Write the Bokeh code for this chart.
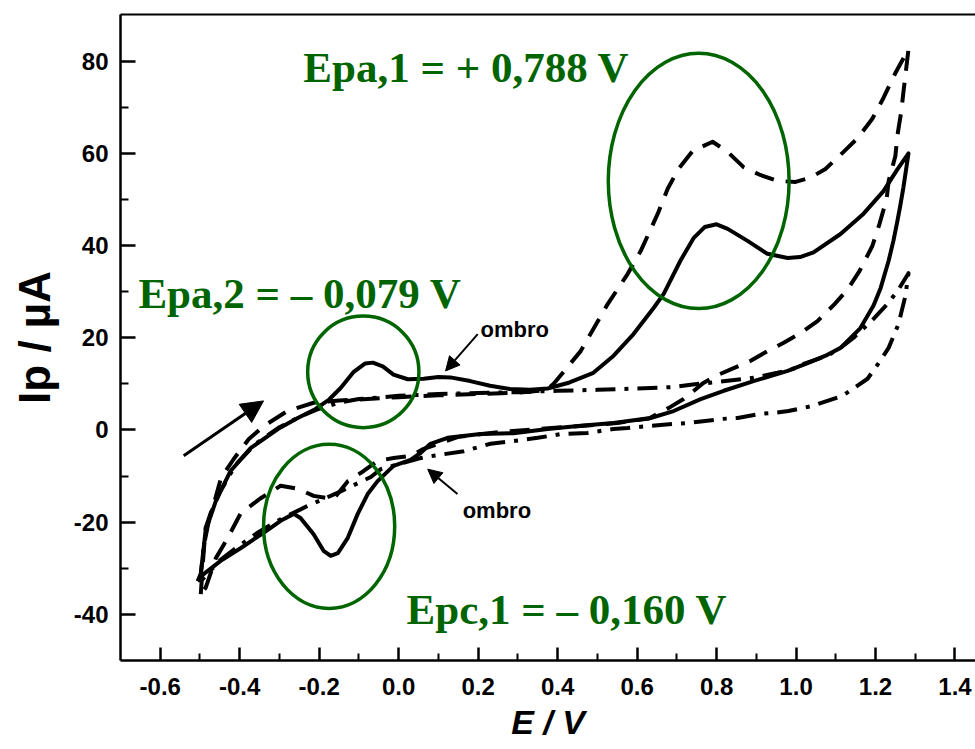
import math
from bokeh.plotting import figure
from bokeh.models import Range1d, LinearAxis, FixedTicker, Label, Arrow, NormalHead
from bokeh.embed import file_html
from bokeh.resources import INLINE

# ---------------- data (E / V, Ip / uA) ----------------
# solid curve: forward (anodic) scan then reverse (cathodic) scan
solid_E = [-0.506, -0.498, -0.486, -0.460, -0.423, -0.372, -0.304, -0.254, -0.210, -0.175,
           -0.146, -0.113, -0.085, -0.065, -0.040, -0.013, 0.023, 0.063, 0.100, 0.130,
           0.180, 0.230, 0.280, 0.330, 0.375, 0.430, 0.490, 0.541, 0.591, 0.642,
           0.667, 0.709, 0.742, 0.770, 0.800, 0.828, 0.878, 0.928, 0.979, 1.010,
           1.044, 1.112, 1.170, 1.220, 1.255, 1.283,
           1.270, 1.262, 1.255, 1.245, 1.233, 1.213, 1.195, 1.162, 1.112, 1.079,
           1.029, 0.979, 0.893, 0.818, 0.760, 0.692, 0.634, 0.541, 0.458, 0.375,
           0.289, 0.206, 0.123, 0.080, 0.055, 0.030, -0.013, -0.053, -0.078, -0.103,
           -0.128, -0.153, -0.171, -0.189, -0.214, -0.247, -0.264, -0.297, -0.340, -0.397,
           -0.448, -0.490, -0.506]
solid_I = [-32.8, -31.2, -21.9, -15.4, -8.9, -3.9, 0.2, 2.6, 4.5, 6.6,
           9.1, 12.6, 14.4, 14.6, 13.8, 12.0, 11.0, 11.1, 11.5, 11.4,
           10.6, 9.6, 8.9, 8.7, 9.0, 10.3, 12.4, 16.1, 20.8, 26.5,
           29.5, 36.7, 41.6, 44.0, 44.6, 43.6, 41.0, 38.2, 37.3, 37.5,
           38.5, 42.5, 46.9, 51.8, 56.5, 60.0,
           52.5, 48.5, 45.3, 41.0, 36.7, 30.8, 27.0, 22.1, 17.8, 16.3,
           14.5, 12.8, 10.6, 8.5, 6.7, 4.1, 2.6, 1.5, 0.9, 0.2,
           -0.7, -0.9, -1.7, -3.0, -5.0, -6.5, -7.8, -11.1, -13.9, -18.2,
           -23.4, -26.7, -27.3, -26.2, -22.6, -19.1, -18.2, -19.7, -22.3, -25.6,
           -28.4, -31.2, -32.8]

# dashed curve
dashed_E = [-0.498, -0.492, -0.486, -0.465, -0.447, -0.415, -0.377, -0.339, -0.280, -0.214,
            -0.150, -0.100, 0.000, 0.100, 0.200, 0.300, 0.370, 0.390, 0.458, 0.526,
            0.576, 0.609, 0.652, 0.677, 0.704, 0.740, 0.790, 0.828, 0.868, 0.910,
            0.953, 0.999, 1.036, 1.074, 1.117, 1.155, 1.192, 1.220, 1.250, 1.283,
            1.270, 1.265, 1.255, 1.250, 1.233, 1.228, 1.210, 1.192, 1.160, 1.130,
            1.097, 1.054, 1.011, 0.969, 0.928, 0.886, 0.843, 0.800, 0.767, 0.717,
            0.684, 0.630, 0.550, 0.450, 0.350, 0.250, 0.150, 0.063, 0.030, -0.013,
            -0.053, -0.088, -0.128, -0.164, -0.214, -0.252, -0.297, -0.347, -0.397, -0.430,
            -0.460, -0.486, -0.498]
dashed_I = [-35.6, -28.0, -21.3, -16.0, -10.4, -6.3, -1.95, 0.87, 4.1, 5.9,
            6.4, 6.6, 7.1, 7.5, 7.8, 8.1, 8.6, 10.0, 17.1, 27.3,
            33.8, 38.8, 46.9, 52.3, 56.6, 60.5, 62.5, 60.3, 57.0, 55.3,
            54.0, 53.8, 54.7, 56.6, 60.1, 63.3, 67.5, 72.0, 77.4, 82.6,
            73.1, 69.2, 63.8, 59.4, 54.0, 50.1, 44.7, 39.9, 34.5, 30.5,
            27.3, 23.6, 21.0, 18.9, 17.1, 15.0, 13.4, 11.8, 10.2, 6.7,
            5.0, 2.5, 1.5, 0.8, 0.2, -0.5, -1.5, -4.1, -5.6, -6.1,
            -6.7, -8.9, -11.1, -15.0, -14.3, -12.8, -12.1, -14.8, -18.0, -23.4,
            -27.8, -34.3, -35.6]

# dash-dot curve (background)
dashdot_E = [-0.500, -0.490, -0.475, -0.450, -0.410, -0.360, -0.300, -0.250, -0.200, -0.150,
             -0.100, 0.000, 0.100, 0.200, 0.300, 0.400, 0.500, 0.600, 0.690, 0.735,
             0.800, 0.893, 0.953, 0.991, 1.019, 1.079, 1.112, 1.145, 1.195, 1.230,
             1.258, 1.283,
             1.275, 1.265, 1.258, 1.233, 1.208, 1.180, 1.117, 1.079, 1.041, 0.981,
             0.943, 0.910, 0.853, 0.815, 0.777, 0.727, 0.689, 0.634, 0.576, 0.540,
             0.475, 0.408, 0.350, 0.289, 0.231, 0.164, 0.088, 0.055, -0.045, -0.070,
             -0.150, -0.230, -0.300, -0.350, -0.400, -0.450, -0.500]
dashdot_I = [-33.0, -25.0, -18.5, -13.5, -7.5, -3.0, 0.6, 2.8, 4.6, 5.9,
             6.7, 7.4, 7.8, 8.0, 8.2, 8.5, 8.7, 9.0, 9.3, 9.8,
             10.4, 11.3, 12.4, 13.2, 14.3, 16.1, 17.8, 20.0, 24.1, 27.3,
             30.5, 34.0,
             29.0, 25.5, 23.0, 17.8, 14.5, 11.1, 7.4, 6.3, 5.2, 4.1,
             3.7, 3.5, 2.6, 2.4, 2.0, 1.5, 1.3, 0.9, 0.4, 0.2,
             -0.65, -0.9, -1.7, -2.4, -3.0, -4.6, -5.6, -6.1, -8.5, -10.2,
             -13.5, -16.5, -19.5, -22.0, -25.0, -28.3, -33.0]

# highlighted peak regions (ellipses): centre E, centre I, full width (V), full height (uA)
ell_E = [0.755, -0.089, -0.175]
ell_I = [54.0, 12.6, -20.9]
ell_w = [0.455, 0.280, 0.330]
ell_h = [55.4, 24.2, 35.6]

# peak annotations
peak_texts = ["Epa,1 = + 0,788 V", "Epa,2 = \u2013 0,079 V", "Epc,1 = \u2013 0,160 V"]
peak_text_E = [-0.240, -0.655, 0.020]
peak_text_I = [78.7, 29.7, -39.0]

shoulder_text = ["ombro", "ombro"]
shoulder_text_E = [0.206, 0.161]
shoulder_text_I = [21.7, -17.4]
shoulder_arrow = [((0.199, 20.8), (0.118, 12.8)), ((0.148, -13.9), (0.073, -8.5))]
scan_arrow = ((-0.541, -5.6), (-0.340, 6.3))

x_ticks = [-0.6, -0.4, -0.2, 0.0, 0.2, 0.4, 0.6, 0.8, 1.0, 1.2, 1.4]
x_tick_labels = ["-0.6", "-0.4", "-0.2", "0.0", "0.2", "0.4", "0.6", "0.8", "1.0", "1.2", "1.4"]
x_minor = [-0.5, -0.3, -0.1, 0.1, 0.3, 0.5, 0.7, 0.9, 1.1, 1.3]
y_ticks = [-40, -20, 0, 20, 40, 60, 80]
y_tick_labels = ["-40", "-20", "0", "20", "40", "60", "80"]
y_minor = [-30, -10, 10, 30, 50, 70]

GREEN = "#006400"
SANS = "Liberation Sans"

p = figure(width=975, height=749, output_backend="svg", toolbar_location=None,
           x_range=Range1d(-0.7, 1.4516), y_range=Range1d(-50, 90.1),
           min_border_left=120, min_border_right=0, min_border_top=14, min_border_bottom=89,
           x_axis_label="E / V", y_axis_label="Ip / \u00b5A")
p.grid.visible = False
p.outline_line_color = None
p.background_fill_color = "white"
p.border_fill_color = "white"

# axes
for ax, ticks, minor, labels, tin, mtin in [
        (p.xaxis[0], x_ticks, x_minor, x_tick_labels, 13, 7),
        (p.yaxis[0], y_ticks, y_minor, y_tick_labels, 15, 8)]:
    ax.ticker = FixedTicker(ticks=ticks, minor_ticks=minor)
    ax.major_label_overrides = {t: l for t, l in zip(ticks, labels)}
    ax.axis_line_width = 2.5
    ax.axis_line_color = "black"
    ax.major_tick_line_width = 2.5
    ax.minor_tick_line_width = 2
    ax.major_tick_in = tin
    ax.major_tick_out = 0
    ax.minor_tick_in = mtin
    ax.minor_tick_out = 0
    ax.major_label_text_font = SANS
    ax.major_label_text_font_style = "bold"
    ax.major_label_text_font_size = "24px"
    ax.major_label_text_color = "black"
    ax.axis_label_text_font = SANS
    ax.axis_label_text_color = "black"
p.xaxis.major_label_standoff = 17
p.yaxis.major_label_standoff = 12
p.xaxis.axis_label_text_font_style = "bold italic"
p.xaxis.axis_label_text_font_size = "34px"
p.xaxis.axis_label_standoff = 5
p.yaxis.axis_label_text_font_style = "bold"
p.yaxis.axis_label_text_font_size = "44px"
p.yaxis.axis_label_standoff = 12

top = LinearAxis(ticker=FixedTicker(ticks=[]), major_label_text_font_size="0px",
                 axis_line_width=2, major_tick_line_color=None, minor_tick_line_color=None)
p.add_layout(top, "above")

# curves
p.line(dashdot_E, dashdot_I, line_color="black", line_width=4, line_dash="20 9 4 9",
       line_join="round")
p.line(dashed_E, dashed_I, line_color="black", line_width=4, line_dash="20 12",
       line_join="round")
p.line(solid_E, solid_I, line_color="black", line_width=4, line_join="round")

# ellipses
p.ellipse(x=ell_E, y=ell_I, width=ell_w, height=ell_h, fill_color=None,
          line_color=GREEN, line_width=3.5)

# peak texts
for t, ex, iy in zip(peak_texts, peak_text_E, peak_text_I):
    p.add_layout(Label(x=ex, y=iy, text=t, text_font="Liberation Serif", text_font_style="bold",
                       text_font_size="43px", text_color=GREEN, text_align="left",
                       text_baseline="alphabetic"))

for t, ex, iy in zip(shoulder_text, shoulder_text_E, shoulder_text_I):
    p.add_layout(Label(x=ex, y=iy, text=t, text_font=SANS, text_font_style="bold",
                       text_font_size="22px", text_color="black", text_align="left",
                       text_baseline="alphabetic"))

for (s, e) in shoulder_arrow:
    p.add_layout(Arrow(end=NormalHead(size=14, fill_color="black", line_color="black"),
                       x_start=s[0], y_start=s[1], x_end=e[0], y_end=e[1],
                       line_width=2, line_color="black"))
p.add_layout(Arrow(end=NormalHead(size=22, fill_color="black", line_color="black"),
                   x_start=scan_arrow[0][0], y_start=scan_arrow[0][1],
                   x_end=scan_arrow[1][0], y_end=scan_arrow[1][1],
                   line_width=3, line_color="black"))

open("out.html", "w").write(file_html(p, INLINE))
